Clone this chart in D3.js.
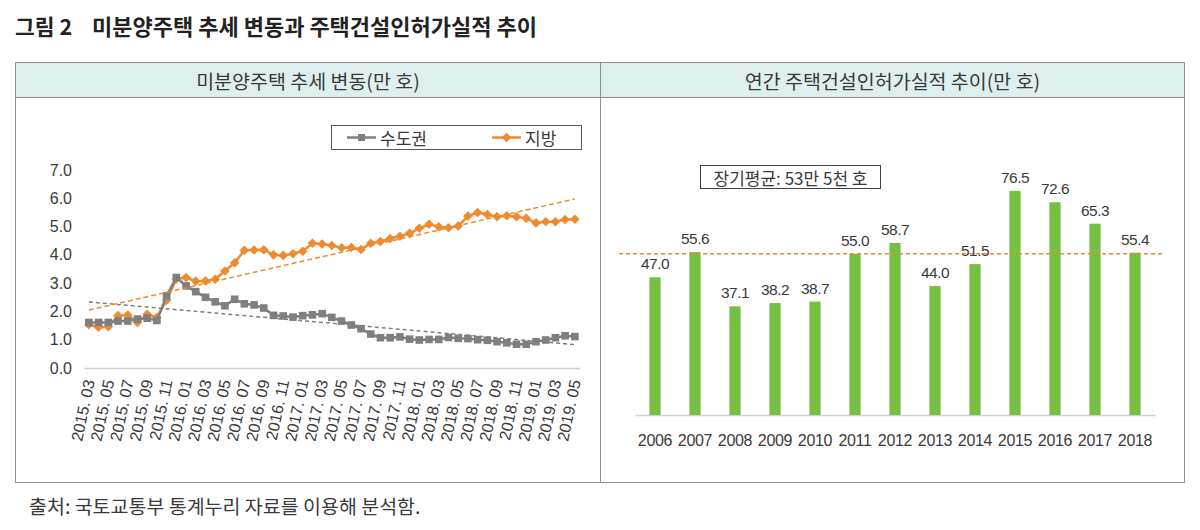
<!DOCTYPE html>
<html><head><meta charset="utf-8">
<script src="https://cdn.jsdelivr.net/npm/d3@7"></script>
<style>body{margin:0;background:#fff;} svg{display:block;}</style>
</head><body>
<svg id="c" width="1200" height="530"></svg>
<script>
// ---------------- DATA ----------------
const months = [
 "2015. 03","2015. 04","2015. 05","2015. 06","2015. 07","2015. 08","2015. 09","2015. 10","2015. 11","2015. 12",
 "2016. 01","2016. 02","2016. 03","2016. 04","2016. 05","2016. 06","2016. 07","2016. 08","2016. 09","2016. 10","2016. 11","2016. 12",
 "2017. 01","2017. 02","2017. 03","2017. 04","2017. 05","2017. 06","2017. 07","2017. 08","2017. 09","2017. 10","2017. 11","2017. 12",
 "2018. 01","2018. 02","2018. 03","2018. 04","2018. 05","2018. 06","2018. 07","2018. 08","2018. 09","2018. 10","2018. 11","2018. 12",
 "2019. 01","2019. 02","2019. 03","2019. 04","2019. 05"];
const capital = [1.61,1.61,1.61,1.66,1.66,1.73,1.76,1.68,2.55,3.20,
 2.90,2.70,2.50,2.34,2.20,2.43,2.27,2.23,2.12,1.86,1.84,1.80,
 1.85,1.88,1.92,1.79,1.66,1.52,1.39,1.20,1.07,1.07,1.10,1.02,
 0.99,1.01,1.01,1.08,1.05,1.04,1.00,0.98,0.93,0.89,0.84,0.84,
 0.93,0.99,1.07,1.14,1.11];
const local = [1.53,1.44,1.46,1.85,1.87,1.61,1.90,1.79,2.40,3.15,
 3.20,3.07,3.08,3.14,3.43,3.72,4.16,4.17,4.18,4.00,3.98,4.04,
 4.13,4.41,4.38,4.33,4.25,4.26,4.19,4.41,4.47,4.58,4.66,4.76,
 4.94,5.08,4.99,4.96,5.02,5.37,5.50,5.43,5.35,5.38,5.35,5.29,
 5.13,5.17,5.17,5.25,5.26];
const seriesNames = ["수도권","지방"];
const leftTicks = [0,1,2,3,4,5,6,7];

const years = ["2006","2007","2008","2009","2010","2011","2012","2013","2014","2015","2016","2017","2018"];
const permits = [47.0,55.6,37.1,38.2,38.7,55.0,58.7,44.0,51.5,76.5,72.6,65.3,55.4];
const avgLineValue = 55.0;
const avgLabel = "장기평균: 53만 5천 호";

const titleNo = "그림 2";
const titleMain = "미분양주택 추세 변동과 주택건설인허가실적 추이";
const headLeft = "미분양주택 추세 변동(만 호)";
const headRight = "연간 주택건설인허가실적 추이(만 호)";
const source = "출처: 국토교통부 통계누리 자료를 이용해 분석함.";

// ---------------- STYLE ----------------
const KR = "'Noto Sans CJK KR','Noto Sans',sans-serif";
const NUM = "'Liberation Sans',Arial,sans-serif";
const TXT = "#3a3a3a";
const GRAY = "#7f7f7f";
const ORANGE = "#ef8a2f";
const GREEN = "#77bf44";

const svg = d3.select("#c");

// Title
svg.append("text").attr("x",15).attr("y",25).attr("dominant-baseline","central")
  .attr("font-family",KR).attr("font-weight","bold").attr("font-size",21.5).attr("fill","#222").text(titleNo);
svg.append("text").attr("x",92).attr("y",25).attr("dominant-baseline","central")
  .attr("font-family",KR).attr("font-weight","bold").attr("font-size",22).attr("fill","#222").text(titleMain);

// Frame
const fx0 = 15.5, fx1 = 1184.5, fy0 = 62.5, fy1 = 482.5, hy = 97.5, mid = 600.5;
svg.append("rect").attr("x",fx0).attr("y",fy0).attr("width",fx1-fx0).attr("height",hy-fy0).attr("fill","#def0ed");
svg.append("rect").attr("x",fx0).attr("y",fy0).attr("width",fx1-fx0).attr("height",fy1-fy0)
  .attr("fill","none").attr("stroke","#8f8f8f").attr("stroke-width",1);
svg.append("line").attr("x1",fx0).attr("x2",fx1).attr("y1",hy).attr("y2",hy).attr("stroke","#8f8f8f");
svg.append("line").attr("x1",mid).attr("x2",mid).attr("y1",fy0).attr("y2",fy1).attr("stroke","#8f8f8f");
svg.append("text").attr("x",(fx0+mid)/2).attr("y",80).attr("text-anchor","middle").attr("dominant-baseline","central")
  .attr("font-family",KR).attr("font-size",19.5).attr("fill",TXT).text(headLeft);
svg.append("text").attr("x",(mid+fx1)/2).attr("y",80).attr("text-anchor","middle").attr("dominant-baseline","central")
  .attr("font-family",KR).attr("font-size",19.5).attr("fill",TXT).text(headRight);

// Source
svg.append("text").attr("x",29).attr("y",505).attr("dominant-baseline","central")
  .attr("font-family",KR).attr("font-size",19.5).attr("fill",TXT).text(source);

// ---------------- LEFT CHART ----------------
const x = d3.scalePoint().domain(months).range([84, 579.7]).padding(0.5);
const y = d3.scaleLinear().domain([0,7]).range([368,170]);

// y axis labels
const yAx = svg.append("g").attr("transform","translate(84,0)")
  .call(d3.axisLeft(y).tickValues(leftTicks).tickFormat(d3.format(".1f")).tickSize(0).tickPadding(12));
yAx.select(".domain").remove();
yAx.selectAll("text").attr("font-family",NUM).attr("font-size",16).attr("fill",TXT);

// x axis
const xAx = svg.append("g").attr("transform","translate(0,368)")
  .call(d3.axisBottom(x).tickValues(months.filter((d,i)=>i%2===0)).tickSize(0).tickSizeOuter(0));
xAx.select(".domain").attr("stroke","#d0d0d0").attr("stroke-width",1.5);
xAx.selectAll("text").attr("font-family",NUM).attr("font-size",16).attr("fill",TXT)
  .attr("text-anchor","end").attr("y",0).attr("dy","0.35em")
  .attr("transform","translate(0,12) rotate(-78)");

// series
const lineGen = vals => d3.line().x((d,i)=>x(months[i])).y(d=>y(d))(vals);
const diamond = r => `M0,${-r}L${r},0L0,${r}L${-r},0Z`;

svg.append("path").attr("d",lineGen(local)).attr("fill","none").attr("stroke",ORANGE).attr("stroke-width",2.5);
svg.append("g").selectAll("path").data(local).join("path")
  .attr("d",diamond(4.8)).attr("transform",(d,i)=>`translate(${x(months[i])},${y(d)})`).attr("fill",ORANGE);

svg.append("path").attr("d",lineGen(capital)).attr("fill","none").attr("stroke",GRAY).attr("stroke-width",2.5);
svg.append("g").selectAll("rect").data(capital).join("rect")
  .attr("x",(d,i)=>x(months[i])-3.8).attr("y",d=>y(d)-3.8).attr("width",7.6).attr("height",7.6).attr("fill",GRAY);

// linear trendlines (least squares)
function fit(vals){
  const n = vals.length, xs = d3.range(n);
  const mx = d3.mean(xs), my = d3.mean(vals);
  const b = d3.sum(xs,(xi)=> (xi-mx)*(vals[xi]-my)) / d3.sum(xs,xi=>(xi-mx)*(xi-mx));
  const a = my - b*mx;
  return [a, a + b*(n-1)];
}
[[capital,GRAY,"4,3"],[local,ORANGE,"5,3"]].forEach(([vals,col,dash])=>{
  const [v0,v1] = fit(vals);
  svg.append("line").attr("x1",x(months[0])).attr("x2",x(months[months.length-1]))
    .attr("y1",y(v0)).attr("y2",y(v1)).attr("stroke",col).attr("stroke-width",1.5).attr("stroke-dasharray",dash);
});

// legend
const lg = svg.append("g");
lg.append("rect").attr("x",331.5).attr("y",125.5).attr("width",250).attr("height",24)
  .attr("fill","#fff").attr("stroke","#595959");
const lgItems = [{name:seriesNames[0],col:GRAY,x0:347,type:"sq"},{name:seriesNames[1],col:ORANGE,x0:492,type:"dia"}];
lgItems.forEach(it=>{
  lg.append("line").attr("x1",it.x0).attr("x2",it.x0+29).attr("y1",137.5).attr("y2",137.5)
    .attr("stroke",it.col).attr("stroke-width",2.5);
  if(it.type==="sq") lg.append("rect").attr("x",it.x0+14.5-3.5).attr("y",137.5-3.5).attr("width",7).attr("height",7).attr("fill",it.col);
  else lg.append("path").attr("d",diamond(4.8)).attr("transform",`translate(${it.x0+14.5},137.5)`).attr("fill",it.col);
  lg.append("text").attr("x",it.x0+33).attr("y",137.5).attr("dominant-baseline","central")
    .attr("font-family",KR).attr("font-size",17).attr("fill",TXT).text(it.name);
});

// ---------------- RIGHT CHART ----------------
const xb = d3.scaleBand().domain(years).range([635,1155]).paddingInner(0.72).paddingOuter(0.36);
const yb = d3.scaleLinear().domain([0,80]).range([415,415-80*2.93]);

const bAx = svg.append("g").attr("transform","translate(0,415)")
  .call(d3.axisBottom(xb).tickSize(0).tickSizeOuter(0).tickPadding(20));
bAx.select(".domain").attr("stroke","#d0d0d0").attr("stroke-width",1.5);
bAx.selectAll("text").attr("font-family",NUM).attr("font-size",16).attr("letter-spacing","-0.3px").attr("fill",TXT);

svg.append("g").selectAll("rect").data(permits).join("rect")
  .attr("x",(d,i)=>xb(years[i])).attr("width",xb.bandwidth())
  .attr("y",d=>yb(d)).attr("height",d=>yb(0)-yb(d)).attr("fill",GREEN);

svg.append("g").selectAll("text").data(permits).join("text")
  .attr("x",(d,i)=>xb(years[i])+xb.bandwidth()/2).attr("y",d=>yb(d)-8)
  .attr("text-anchor","middle").attr("font-family",NUM).attr("font-size",15.5).attr("letter-spacing","-0.5px")
  .attr("fill",TXT).text(d=>d3.format(".1f")(d));

// average line
svg.append("line").attr("x1",xb.range()[0]-16).attr("x2",xb.range()[1]+10)
  .attr("y1",yb(avgLineValue)).attr("y2",yb(avgLineValue))
  .attr("stroke",ORANGE).attr("stroke-width",1.5).attr("stroke-dasharray","4,3");

// average label box
svg.append("rect").attr("x",700.5).attr("y",165.5).attr("width",180).attr("height",23)
  .attr("fill","#fff").attr("stroke","#404040");
svg.append("text").attr("x",790.5).attr("y",177).attr("text-anchor","middle").attr("dominant-baseline","central")
  .attr("font-family",KR).attr("font-size",17).attr("fill",TXT).text(avgLabel);
</script>
</body></html>
